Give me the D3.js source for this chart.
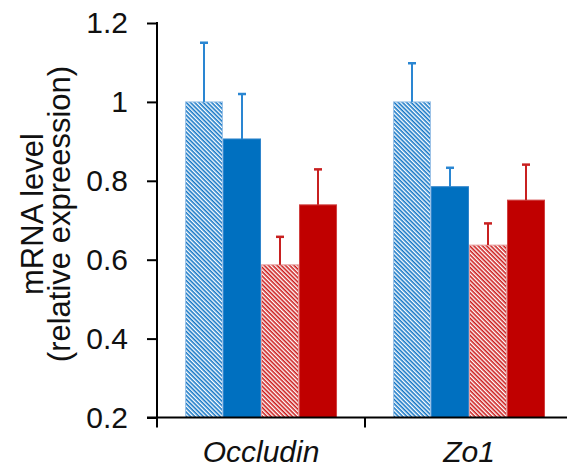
<!DOCTYPE html>
<html><head><meta charset="utf-8">
<script src="https://cdn.jsdelivr.net/npm/d3@7"></script>
<style>html,body{margin:0;padding:0;background:#fff;}svg{display:block;}</style>
</head><body>
<svg id="chart" width="568" height="469"></svg>
<script>
const categories = ["Occludin", "Zo1"];
const seriesKeys = ["s1", "s2", "s3", "s4"];
const occludinValues = [1.0, 0.906, 0.587, 0.739];
const zo1Values = [1.0, 0.785, 0.637, 0.751];
const occludinErrors = [0.150, 0.114, 0.071, 0.090];
const zo1Errors = [0.098, 0.048, 0.055, 0.090];
const yTicks = [0.2, 0.4, 0.6, 0.8, 1, 1.2];
const titleLines = ["mRNA level", "(relative expreession)"];

const valuesByCat = {Occludin: occludinValues, Zo1: zo1Values};
const errorsByCat = {Occludin: occludinErrors, Zo1: zo1Errors};
const data = [];
categories.forEach(c => seriesKeys.forEach((k, i) => data.push({cat: c, key: k, i, v: valuesByCat[c][i], e: errorsByCat[c][i]})));

const svg = d3.select("#chart");
const font = "'Liberation Sans', Arial, sans-serif";
const blue = "#0070C0", red = "#C00000";
const styles = [
  {hatch: true, color: "#1476C6", stroke: "#9CC3E8", err: "#2A86D2"},
  {hatch: false, color: blue, stroke: "#2F85CC", err: "#2A86D2"},
  {hatch: true, color: "#CC1C1C", stroke: "#E8A0A0", err: "#C82020"},
  {hatch: false, color: red, stroke: "#D04040", err: "#C82020"}
];

const defs = svg.append("defs");
styles.forEach((s, i) => {
  if (!s.hatch) return;
  const p = defs.append("pattern").attr("id", "hatch" + i)
    .attr("patternUnits", "userSpaceOnUse").attr("width", 3).attr("height", 3)
    .attr("patternTransform", "rotate(45)");
  p.append("rect").attr("width", 3).attr("height", 3).attr("fill", "#fff");
  p.append("line").attr("x1", 0).attr("y1", 0.8).attr("x2", 3).attr("y2", 0.8)
    .attr("stroke", s.color).attr("stroke-width", 1.6);
});

const x0 = 157, step = 208;
const x = d3.scaleBand().domain(categories).range([x0, x0 + step * categories.length])
  .paddingInner(0.269).paddingOuter(0.1346);
const xi = d3.scaleBand().domain(seriesKeys).range([0, x.bandwidth()]);
const y = d3.scaleLinear().domain([0.2, 1.2]).range([417.5, 23]);

// bars
svg.append("g").selectAll("rect").data(data).join("rect")
  .attr("x", d => x(d.cat) + xi(d.key) + 0.5)
  .attr("width", xi.bandwidth() - 1)
  .attr("y", d => y(d.v))
  .attr("height", d => y(0.2) - y(d.v))
  .attr("fill", d => styles[d.i].hatch ? `url(#hatch${d.i})` : styles[d.i].color)
  .attr("stroke", d => styles[d.i].stroke)
  .attr("stroke-width", 1);

// error bars
const eg = svg.append("g");
eg.selectAll("line.v").data(data).join("line").attr("class", "v")
  .attr("x1", d => x(d.cat) + xi(d.key) + xi.bandwidth() / 2)
  .attr("x2", d => x(d.cat) + xi(d.key) + xi.bandwidth() / 2)
  .attr("y1", d => y(d.v)).attr("y2", d => y(d.v + d.e))
  .attr("stroke", d => styles[d.i].err).attr("stroke-width", 2);
eg.selectAll("line.c").data(data).join("line").attr("class", "c")
  .attr("x1", d => x(d.cat) + xi(d.key) + xi.bandwidth() / 2 - 4)
  .attr("x2", d => x(d.cat) + xi(d.key) + xi.bandwidth() / 2 + 4)
  .attr("y1", d => y(d.v + d.e)).attr("y2", d => y(d.v + d.e))
  .attr("stroke", d => styles[d.i].err).attr("stroke-width", 2.5);

// y axis
const yAxis = d3.axisLeft(y).tickValues(yTicks).tickSize(10).tickSizeOuter(0).tickFormat(d3.format(""));
const ya = svg.append("g").attr("transform", `translate(${x0},0)`).call(yAxis);
ya.select(".domain").remove();
ya.selectAll(".tick line").attr("stroke", "#000").attr("stroke-width", 2);
ya.selectAll(".tick text").attr("x", -29).attr("font-family", font).attr("font-size", 30).attr("fill", "#111");
ya.append("line").attr("x1", 0).attr("x2", 0).attr("y1", y(1.2) - 1).attr("y2", y(0.2) + 10)
  .attr("stroke", "#000").attr("stroke-width", 2);

// x axis
const xg = svg.append("g");
xg.append("line").attr("x1", x0 - 10).attr("x2", 567).attr("y1", y(0.2)).attr("y2", y(0.2))
  .attr("stroke", "#000").attr("stroke-width", 2);
const bounds = categories.map(c => x(c) - x.step() * x.paddingInner() / 2).slice(1);
xg.selectAll("line.t").data(bounds).join("line").attr("class", "t")
  .attr("x1", d => d).attr("x2", d => d).attr("y1", y(0.2)).attr("y2", y(0.2) + 10)
  .attr("stroke", "#000").attr("stroke-width", 2);
xg.selectAll("text").data(categories).join("text")
  .attr("x", d => x(d) + x.bandwidth() / 2).attr("y", 462)
  .attr("text-anchor", "middle").attr("font-family", font).attr("font-size", 30)
  .attr("font-style", "italic").attr("fill", "#111").text(d => d);

// y title
const tg = svg.append("g").attr("transform", "translate(0,214) rotate(-90)");
tg.selectAll("text").data(titleLines).join("text")
  .attr("x", 0).attr("y", (d, i) => 43 + i * 27).attr("text-anchor", "middle")
  .attr("font-family", font).attr("font-size", 31).attr("fill", "#111").text(d => d);
</script>
</body></html>
